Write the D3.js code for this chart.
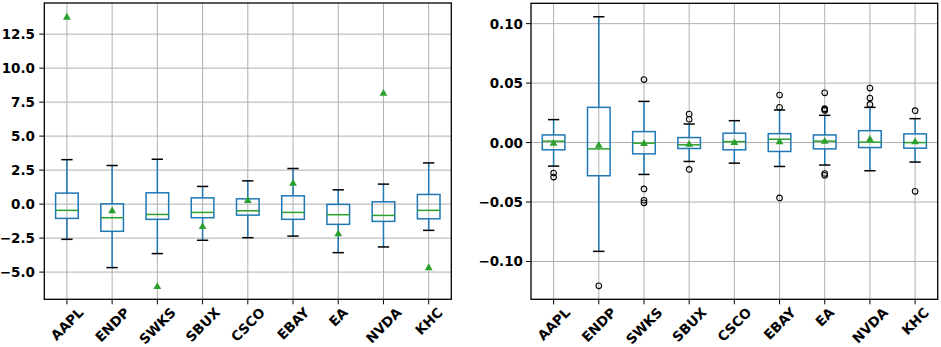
<!DOCTYPE html>
<html>
<head>
<meta charset="utf-8">
<script src="https://cdn.jsdelivr.net/npm/d3@7"></script>
<style>
  body { margin: 0; background: #fff; }
  svg { display: block; }
  text { font-family: "DejaVu Sans", sans-serif; font-weight: bold; fill: #000; }
</style>
</head>
<body>
<div id="chart"></div>
<script>
// tickers shared by both panels
const tickers = ["AAPL", "ENDP", "SWKS", "SBUX", "CSCO", "EBAY", "EA", "NVDA", "KHC"];

// left panel
const leftLow    = [-2.59, -4.67, -3.64, -2.66, -2.47, -2.35, -3.57, -3.15, -1.93];
const leftQ1     = [-1.05, -2.00, -1.12, -1.00, -0.81, -1.12, -1.49, -1.27, -1.08];
const leftMedian = [-0.46, -1.00, -0.76, -0.61, -0.49, -0.61, -0.78, -0.83, -0.46];
const leftQ3     = [0.81, 0.02, 0.83, 0.46, 0.39, 0.61, -0.02, 0.17, 0.71];
const leftHigh   = [3.27, 2.84, 3.30, 1.30, 1.71, 2.62, 1.05, 1.47, 3.03];
const leftMean   = [13.8, -0.44, -6.01, -1.59, 0.32, 1.59, -2.13, 8.21, -4.62];
const leftOutliers = [[], [], [], [], [], [], [], [], []];
const leftTicks = [-5, -2.5, 0, 2.5, 5, 7.5, 10, 12.5];

// right panel
const rightLow    = [-0.0198, -0.0915, -0.0268, -0.0159, -0.0173, -0.0201, -0.0189, -0.0237, -0.0164];
const rightQ1     = [-0.0061, -0.0279, -0.0095, -0.0050, -0.0061, -0.0075, -0.0053, -0.0042, -0.0047];
const rightMedian = [0.0012, -0.0053, -0.0005, -0.0019, 0.0008, 0.0028, 0.0012, 0.0003, 0.0000];
const rightQ3     = [0.0064, 0.0296, 0.0092, 0.0042, 0.0079, 0.0075, 0.0064, 0.0100, 0.0073];
const rightHigh   = [0.0193, 0.1058, 0.0346, 0.0156, 0.0184, 0.0274, 0.0229, 0.0296, 0.0201];
const rightMean   = [0.0000, -0.0017, -0.0003, -0.0008, 0.0006, 0.0012, 0.0017, 0.0033, 0.0012];
const rightOutliers = [
  [-0.0256, -0.0290],
  [-0.1205],
  [0.053, -0.039, -0.0485, -0.0507],
  [0.024, 0.0196, -0.0226],
  [],
  [0.040, 0.0296, -0.0466],
  [0.0418, 0.0285, 0.0278, 0.0270, -0.0260, -0.0275],
  [0.0458, 0.0374, 0.0321],
  [0.0268, -0.041]
];
const rightTicks = [-0.10, -0.05, 0, 0.05, 0.10];

const width = 941, height = 347;
const svg = d3.select("#chart").append("svg")
  .attr("width", width)
  .attr("height", height);

const blue = "#1f77b4", green = "#2ca02c";
const tickLen = 5;

const drawPanel = (opt) => {
  const {x0, x1, y0, y1, low, q1, med, q3, high, mean, outliers, ticks, fmt, labelRight} = opt;

  const data = tickers.map((t, i) => ({
    name: t, low: low[i], q1: q1[i], med: med[i], q3: q3[i], high: high[i], mean: mean[i], out: outliers[i]
  }));

  // matplotlib style autoscale: 5% margins around everything drawn
  const allVals = data.flatMap(d => [d.low, d.high, d.mean, ...d.out]);
  const lo = d3.min(allVals), hi = d3.max(allVals);
  const pad = (hi - lo) * 0.05;

  const xScale = d3.scaleLinear().domain([0.5, tickers.length + 0.5]).range([x0, x1]);
  const yScale = d3.scaleLinear().domain([lo - pad, hi + pad]).range([y1, y0]);
  const step = xScale(2) - xScale(1);

  const g = svg.append("g");

  // grid
  g.selectAll(".hgrid").data(ticks).join("line")
    .attr("x1", x0).attr("x2", x1)
    .attr("y1", d => yScale(d)).attr("y2", d => yScale(d))
    .attr("stroke", "#b0b0b0").attr("stroke-width", 1);
  g.selectAll(".vgrid").data(data).join("line")
    .attr("x1", (d, i) => xScale(i + 1)).attr("x2", (d, i) => xScale(i + 1))
    .attr("y1", y0).attr("y2", y1)
    .attr("stroke", "#b0b0b0").attr("stroke-width", 1);

  const box = g.selectAll(".box").data(data).join("g")
    .attr("transform", (d, i) => `translate(${xScale(i + 1)},0)`);

  const bw = step * 0.5, cw = step * 0.25;

  // whiskers
  box.append("line")
    .attr("x1", 0).attr("x2", 0)
    .attr("y1", d => yScale(d.q3)).attr("y2", d => yScale(d.high))
    .attr("stroke", blue).attr("stroke-width", 1.5);
  box.append("line")
    .attr("x1", 0).attr("x2", 0)
    .attr("y1", d => yScale(d.q1)).attr("y2", d => yScale(d.low))
    .attr("stroke", blue).attr("stroke-width", 1.5);
  // caps
  box.append("line")
    .attr("x1", -cw / 2).attr("x2", cw / 2)
    .attr("y1", d => yScale(d.high)).attr("y2", d => yScale(d.high))
    .attr("stroke", "#000").attr("stroke-width", 1.5);
  box.append("line")
    .attr("x1", -cw / 2).attr("x2", cw / 2)
    .attr("y1", d => yScale(d.low)).attr("y2", d => yScale(d.low))
    .attr("stroke", "#000").attr("stroke-width", 1.5);
  // box (unfilled)
  box.append("rect")
    .attr("x", -bw / 2).attr("width", bw)
    .attr("y", d => yScale(d.q3))
    .attr("height", d => yScale(d.q1) - yScale(d.q3))
    .attr("fill", "none").attr("stroke", blue).attr("stroke-width", 1.5);
  // median
  box.append("line")
    .attr("x1", -bw / 2).attr("x2", bw / 2)
    .attr("y1", d => yScale(d.med)).attr("y2", d => yScale(d.med))
    .attr("stroke", green).attr("stroke-width", 1.5);
  // mean triangles
  box.append("path")
    .attr("transform", d => `translate(0,${yScale(d.mean)})`)
    .attr("d", "M0,-3.6L3.9,3.2L-3.9,3.2Z")
    .attr("fill", green);
  // fliers
  box.selectAll(".flier").data(d => d.out).join("circle")
    .attr("cx", 0).attr("cy", d => yScale(d))
    .attr("r", 2.8)
    .attr("fill", "none").attr("stroke", "#000").attr("stroke-width", 1.1);

  // frame
  g.append("rect")
    .attr("x", x0).attr("y", y0)
    .attr("width", x1 - x0).attr("height", y1 - y0)
    .attr("fill", "none").attr("stroke", "#000").attr("stroke-width", 1.3);

  // y ticks
  g.selectAll(".ytick").data(ticks).join("line")
    .attr("x1", x0 - tickLen).attr("x2", x0)
    .attr("y1", d => yScale(d)).attr("y2", d => yScale(d))
    .attr("stroke", "#000").attr("stroke-width", 1);
  g.selectAll(".ylab").data(ticks).join("text")
    .attr("x", labelRight)
    .attr("y", d => yScale(d))
    .attr("text-anchor", "end")
    .attr("dominant-baseline", "central")
    .attr("font-size", 13.5)
    .text(d => d3.format(fmt)(d));

  // x ticks
  g.selectAll(".xtick").data(data).join("line")
    .attr("x1", (d, i) => xScale(i + 1)).attr("x2", (d, i) => xScale(i + 1))
    .attr("y1", y1).attr("y2", y1 + tickLen)
    .attr("stroke", "#000").attr("stroke-width", 1);

  // rotated labels, centred under the tick like matplotlib ha=center
  const labels = g.selectAll(".xlab").data(data).join("text")
    .attr("text-anchor", "middle")
    .attr("dominant-baseline", "central")
    .attr("font-size", 13.5)
    .text(d => d.name);
  labels.each(function(d, i) {
    const w = this.getComputedTextLength();
    const h = 13.5 * 0.85;
    const half = (w + h) * Math.SQRT1_2 / 2;
    d3.select(this).attr("transform", `translate(${xScale(i + 1)},${y1 + 6.5 + half}) rotate(-45)`);
  });
};

drawPanel({
  x0: 44.3, x1: 451.3, y0: 3, y1: 299.3,
  low: leftLow, q1: leftQ1, med: leftMedian, q3: leftQ3, high: leftHigh,
  mean: leftMean, outliers: leftOutliers, ticks: leftTicks, fmt: ".1f", labelRight: 35
});

drawPanel({
  x0: 531, x1: 937.7, y0: 3.3, y1: 299.3,
  low: rightLow, q1: rightQ1, med: rightMedian, q3: rightQ3, high: rightHigh,
  mean: rightMean, outliers: rightOutliers, ticks: rightTicks, fmt: ".2f", labelRight: 523
});
</script>
</body>
</html>
